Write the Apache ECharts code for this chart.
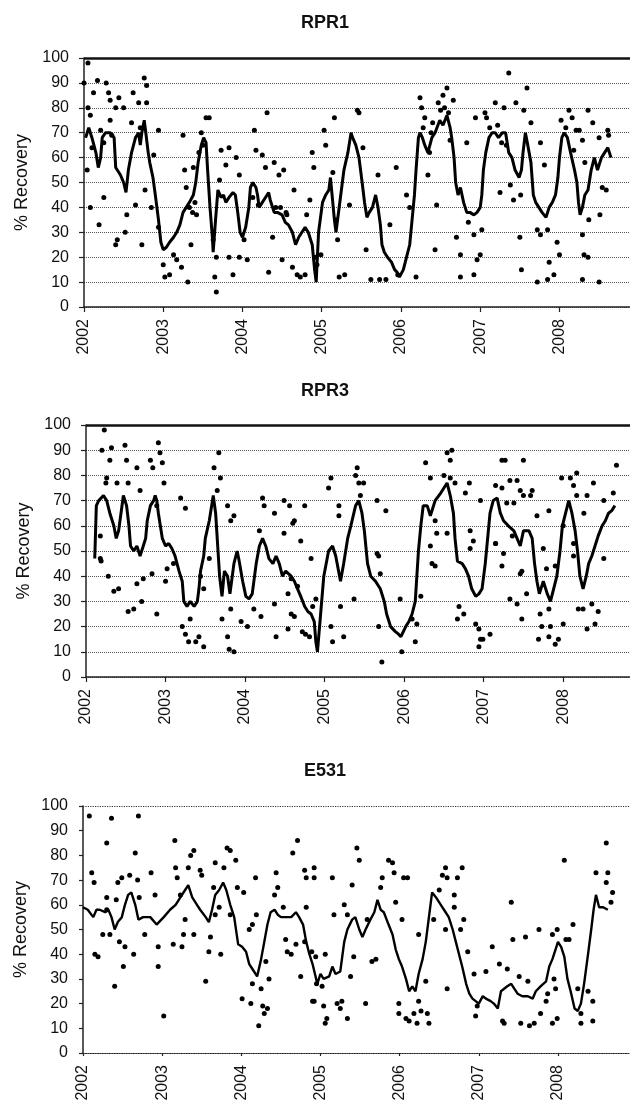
<!DOCTYPE html>
<html>
<head>
<meta charset="utf-8">
<script src="https://cdn.jsdelivr.net/npm/echarts@6/dist/echarts.min.js"></script>
<style>
html, body { margin: 0; padding: 0; background: #fff; }
#chart { width: 630px; height: 1106px; }
</style>
</head>
<body>
<div id="chart"></div>
<script>
const years = [2002, 2003, 2004, 2005, 2006, 2007, 2008];
const yTicks = [0, 10, 20, 30, 40, 50, 60, 70, 80, 90, 100];
const panelTitles = ["RPR1", "RPR3", "E531"];
const yName = "% Recovery";

// moving average lines, [decimal year, % recovery]
const rpr1Line = [[2002.02,68],[2002.06,72],[2002.10,68],[2002.15,62],[2002.18,56],[2002.21,60],[2002.23,68],[2002.27,70],[2002.33,70],[2002.38,68],[2002.40,56],[2002.46,53],[2002.50,50],[2002.53,46],[2002.56,55],[2002.60,62],[2002.65,68],[2002.69,70],[2002.71,65],[2002.73,70],[2002.76,75],[2002.78,70],[2002.81,62],[2002.83,58],[2002.87,52],[2002.90,45],[2002.94,35],[2002.97,26],[2003.00,23],[2003.04,24],[2003.08,26],[2003.13,28],[2003.17,30],[2003.21,33],[2003.25,38],[2003.29,40],[2003.33,42],[2003.38,45],[2003.41,50],[2003.44,58],[2003.48,65],[2003.51,68],[2003.54,66],[2003.56,55],[2003.59,40],[2003.62,28],[2003.63,22],[2003.66,35],[2003.69,47],[2003.73,44],[2003.76,45],[2003.79,42],[2003.83,44],[2003.88,46],[2003.91,45],[2003.94,38],[2003.97,30],[2004.00,28],[2004.04,32],[2004.08,40],[2004.10,48],[2004.13,50],[2004.17,48],[2004.19,45],[2004.21,40],[2004.25,42],[2004.29,44],[2004.33,46],[2004.35,43],[2004.40,38],[2004.44,38],[2004.50,37],[2004.54,34],[2004.58,33],[2004.63,30],[2004.67,25],[2004.71,28],[2004.75,30],[2004.79,32],[2004.83,30],[2004.88,25],[2004.91,15],[2004.93,10],[2004.96,30],[2005.01,42],[2005.05,45],[2005.09,47],[2005.11,52],[2005.16,35],[2005.18,30],[2005.24,45],[2005.28,55],[2005.33,62],[2005.37,70],[2005.39,68],[2005.43,65],[2005.47,60],[2005.51,50],[2005.54,42],[2005.57,36],[2005.60,38],[2005.64,40],[2005.68,45],[2005.71,40],[2005.74,33],[2005.76,25],[2005.79,22],[2005.83,20],[2005.88,18],[2005.92,15],[2005.95,14],[2005.98,12],[2006.03,15],[2006.07,20],[2006.11,25],[2006.14,35],[2006.17,45],[2006.19,55],[2006.22,68],[2006.24,70],[2006.27,68],[2006.30,65],[2006.34,62],[2006.39,68],[2006.43,70],[2006.49,75],[2006.53,73],[2006.58,77],[2006.62,72],[2006.64,68],[2006.67,60],[2006.69,50],[2006.72,45],[2006.75,48],[2006.79,42],[2006.83,38],[2006.87,38],[2006.92,37],[2006.96,38],[2007.00,40],[2007.02,45],[2007.04,55],[2007.07,62],[2007.11,68],[2007.15,70],[2007.19,70],[2007.23,68],[2007.28,70],[2007.32,70],[2007.36,62],[2007.40,60],[2007.44,55],[2007.49,52],[2007.52,55],[2007.54,62],[2007.57,70],[2007.60,65],[2007.64,58],[2007.67,45],[2007.70,42],[2007.74,40],[2007.78,38],[2007.83,36],[2007.87,40],[2007.91,42],[2007.95,45],[2007.98,52],[2008.00,60],[2008.03,68],[2008.06,70],[2008.10,68],[2008.14,62],[2008.19,55],[2008.22,50],[2008.24,42],[2008.26,37],[2008.29,40],[2008.32,45],[2008.36,47],[2008.40,55],[2008.44,60],[2008.48,55],[2008.53,60],[2008.57,62],[2008.61,64],[2008.65,60]];

const rpr3Line = [[2002.11,47],[2002.13,68],[2002.16,70],[2002.22,72],[2002.26,70],[2002.30,65],[2002.35,60],[2002.38,55],[2002.41,58],[2002.44,65],[2002.47,72],[2002.51,68],[2002.54,60],[2002.56,52],[2002.60,50],[2002.64,52],[2002.68,48],[2002.72,52],[2002.75,55],[2002.77,62],[2002.81,68],[2002.85,70],[2002.87,72],[2002.89,70],[2002.91,65],[2002.96,55],[2003.00,52],[2003.04,53],[2003.08,51],[2003.12,48],[2003.17,42],[2003.21,38],[2003.23,30],[2003.27,28],[2003.31,30],[2003.36,28],[2003.40,30],[2003.42,35],[2003.44,42],[2003.48,48],[2003.50,55],[2003.55,62],[2003.58,68],[2003.60,72],[2003.63,65],[2003.66,50],[2003.68,40],[2003.71,32],[2003.74,42],[2003.78,40],[2003.81,33],[2003.86,45],[2003.90,50],[2003.92,47],[2003.97,38],[2004.01,32],[2004.05,31],[2004.09,33],[2004.14,45],[2004.18,52],[2004.22,55],[2004.26,52],[2004.30,47],[2004.35,45],[2004.39,48],[2004.43,45],[2004.47,40],[2004.51,42],[2004.58,40],[2004.62,38],[2004.66,35],[2004.70,32],[2004.75,28],[2004.79,26],[2004.83,25],[2004.87,22],[2004.89,14],[2004.91,10],[2004.95,25],[2004.99,40],[2005.05,50],[2005.10,52],[2005.14,48],[2005.20,38],[2005.24,45],[2005.29,55],[2005.33,60],[2005.39,68],[2005.43,70],[2005.47,65],[2005.50,58],[2005.54,45],[2005.58,40],[2005.64,38],[2005.70,35],[2005.75,30],[2005.78,25],[2005.83,20],[2005.89,18],[2005.93,17],[2005.96,16],[2006.02,20],[2006.06,22],[2006.10,25],[2006.14,30],[2006.16,40],[2006.18,50],[2006.21,60],[2006.24,68],[2006.29,68],[2006.33,64],[2006.39,70],[2006.46,73],[2006.50,75],[2006.54,77],[2006.58,72],[2006.62,65],[2006.64,55],[2006.67,46],[2006.73,45],[2006.77,43],[2006.81,40],[2006.85,35],[2006.90,32],[2006.94,33],[2006.98,35],[2007.02,45],[2007.05,55],[2007.08,65],[2007.12,70],[2007.17,71],[2007.21,65],[2007.25,62],[2007.31,60],[2007.38,58],[2007.42,55],[2007.46,52],[2007.50,58],[2007.57,58],[2007.61,55],[2007.64,45],[2007.67,38],[2007.70,33],[2007.75,38],[2007.80,33],[2007.84,30],[2007.88,35],[2007.92,40],[2007.96,50],[2007.99,60],[2008.03,65],[2008.07,70],[2008.11,65],[2008.15,58],[2008.18,50],[2008.21,40],[2008.25,35],[2008.29,40],[2008.32,45],[2008.36,48],[2008.40,52],[2008.44,56],[2008.49,60],[2008.53,62],[2008.57,65],[2008.61,66],[2008.65,68]];

const e531Line = [[2002.00,59],[2002.06,58],[2002.13,55],[2002.17,58],[2002.21,58],[2002.28,57],[2002.32,58],[2002.36,55],[2002.40,50],[2002.44,53],[2002.49,55],[2002.53,60],[2002.57,64],[2002.61,65],[2002.66,60],[2002.70,54],[2002.76,55],[2002.85,55],[2002.93,52],[2003.02,55],[2003.10,58],[2003.17,60],[2003.23,63],[2003.29,66],[2003.33,68],[2003.38,63],[2003.44,60],[2003.48,58],[2003.55,55],[2003.59,53],[2003.63,58],[2003.67,64],[2003.72,66],[2003.77,69],[2003.81,66],[2003.86,60],[2003.91,55],[2003.96,44],[2004.01,43],[2004.06,41],[2004.10,36],[2004.14,34],[2004.20,31],[2004.25,38],[2004.29,45],[2004.33,52],[2004.37,57],[2004.42,58],[2004.46,56],[2004.50,55],[2004.56,55],[2004.63,55],[2004.69,57],[2004.73,55],[2004.78,52],[2004.82,45],[2004.86,40],[2004.90,36],[2004.93,32],[2004.96,28],[2005.00,32],[2005.04,30],[2005.11,31],[2005.15,35],[2005.19,32],[2005.25,33],[2005.30,45],[2005.34,50],[2005.40,54],[2005.44,55],[2005.49,50],[2005.53,47],[2005.57,50],[2005.63,54],[2005.68,57],[2005.72,62],[2005.76,58],[2005.80,57],[2005.86,52],[2005.91,48],[2005.95,42],[2005.99,38],[2006.03,35],[2006.08,30],[2006.12,25],[2006.16,27],[2006.20,25],[2006.24,32],[2006.29,38],[2006.33,45],[2006.37,55],[2006.41,65],[2006.46,63],[2006.52,60],[2006.56,58],[2006.62,55],[2006.67,50],[2006.71,45],[2006.75,40],[2006.79,35],[2006.84,28],[2006.88,24],[2006.92,22],[2006.96,21],[2007.00,20],[2007.05,23],[2007.09,22],[2007.15,21],[2007.19,20],[2007.24,18],[2007.28,25],[2007.32,26],[2007.36,27],[2007.41,28],[2007.45,26],[2007.49,24],[2007.55,23],[2007.62,23],[2007.68,22],[2007.72,25],[2007.78,27],[2007.85,29],[2007.89,35],[2007.93,38],[2007.97,42],[2008.00,45],[2008.04,43],[2008.08,39],[2008.12,30],[2008.16,25],[2008.21,18],[2008.25,17],[2008.29,20],[2008.33,28],[2008.38,40],[2008.42,50],[2008.45,58],[2008.48,64],[2008.52,59],[2008.57,59],[2008.63,58]];

// individual samples
const rpr1Pts = [[2002.05,98],[2002.05,80],[2002.00,90],[2002.17,91],[2002.12,86],[2002.28,90],[2002.31,86],[2002.33,83],[2002.40,80],[2002.50,80],[2002.44,84],[2002.62,86],[2002.69,82],[2002.76,92],[2002.79,89],[2002.79,82],[2002.08,77],[2002.33,75],[2002.21,71],[2002.60,74],[2002.71,72],[2002.04,55],[2002.08,40],[2002.19,33],[2002.25,44],[2002.40,25],[2002.42,27],[2002.54,37],[2002.52,30],[2002.65,41],[2002.73,25],[2002.77,47],[2002.94,71],[2002.88,61],[2002.85,40],[2002.94,32],[2003.00,17],[2003.02,12],[2003.08,13],[2003.13,21],[2003.17,19],[2003.23,16],[2003.31,10],[2003.25,69],[2003.27,55],[2003.29,48],[2003.33,40],[2003.35,25],[2003.38,56],[2003.42,37],[2003.48,70],[2003.50,65],[2003.54,76],[2003.58,76],[2003.63,27],[2003.65,12],[2003.67,6],[2003.67,20],[2003.71,51],[2003.73,63],[2003.83,64],[2003.79,57],[2003.92,60],[2003.96,53],[2003.88,13],[2003.83,20],[2003.96,20],[2004.06,19],[2004.02,27],[2004.13,44],[2004.15,71],[2004.17,63],[2004.25,61],[2004.29,56],[2004.31,78],[2004.33,14],[2004.38,28],[2004.40,58],[2004.46,53],[2004.52,55],[2004.48,40],[2004.50,19],[2004.56,37],[2004.63,16],[2004.65,47],[2004.69,13],[2004.73,12],[2004.79,13],[2004.85,43],[2004.88,62],[2004.90,56],[2004.92,20],[2004.81,37],[2004.94,17],[2004.99,21],[2005.03,71],[2005.05,65],[2005.14,54],[2005.16,76],[2005.18,35],[2005.20,27],[2005.22,12],[2005.29,13],[2005.35,41],[2005.45,79],[2005.47,78],[2005.52,64],[2005.56,23],[2005.62,11],[2005.71,53],[2005.73,11],[2005.81,11],[2005.86,33],[2005.94,56],[2005.96,13],[2006.07,45],[2006.11,40],[2006.19,12],[2006.24,84],[2006.26,80],[2006.30,76],[2006.34,53],[2006.36,62],[2006.43,23],[2006.45,41],[2006.47,82],[2006.53,85],[2006.58,88],[2006.66,83],[2006.62,67],[2006.70,28],[2006.75,21],[2006.75,12],[2006.83,66],[2006.85,34],[2006.92,29],[2006.94,76],[2006.92,13],[2006.96,19],[2007.00,21],[2007.02,31],[2007.06,78],[2007.08,76],[2007.19,82],[2007.30,80],[2007.25,46],[2007.38,49],[2007.42,43],[2007.45,82],[2007.36,94],[2007.51,45],[2007.50,28],[2007.52,15],[2007.59,88],[2007.55,79],[2007.64,74],[2007.76,66],[2007.81,57],[2007.72,31],[2007.76,29],[2007.85,31],[2007.72,10],[2007.85,11],[2007.87,18],[2007.97,26],[2008.00,21],[2007.93,13],[2008.02,75],[2008.12,79],[2008.16,76],[2008.21,71],[2008.25,71],[2008.29,67],[2008.32,58],[2008.36,79],[2008.29,29],[2008.31,21],[2008.36,20],[2008.29,11],[2008.37,35],[2008.42,74],[2008.50,68],[2008.54,48],[2008.61,71],[2008.62,69],[2008.59,47],[2008.51,37],[2008.50,10],[2006.28,72],[2006.40,74],[2006.50,79],[2006.55,80],[2006.60,78],[2006.38,70],[2007.12,72],[2007.22,73],[2007.27,66],[2007.33,65],[2003.45,62],[2003.40,42],[2003.37,38],[2004.20,41],[2004.42,40],[2004.55,38],[2002.10,64],[2002.25,66],[2002.35,69],[2008.08,72],[2008.18,63]];

const rpr3Pts = [[2002.23,98],[2002.20,90],[2002.32,91],[2002.30,86],[2002.26,79],[2002.25,77],[2002.39,77],[2002.49,92],[2002.51,86],[2002.64,83],[2002.53,77],[2002.68,74],[2002.81,86],[2002.84,83],[2002.91,93],[2002.93,89],[2002.96,85],[2002.98,77],[2002.89,68],[2003.19,71],[2003.25,67],[2003.61,83],[2003.67,89],[2003.69,79],[2003.65,74],[2003.78,68],[2003.82,62],[2003.86,64],[2004.22,71],[2004.24,68],[2004.37,65],[2004.49,70],[2004.56,68],[2004.60,61],[2004.75,68],[2002.18,56],[2002.19,46],[2002.28,40],[2002.18,47],[2002.35,34],[2002.41,35],[2002.53,26],[2002.60,27],[2002.70,30],[2002.64,37],[2002.72,39],[2002.83,41],[2002.89,25],[2003.00,38],[2003.02,43],[2003.10,45],[2003.21,20],[2003.25,17],[2003.29,14],[2003.38,14],[2003.42,16],[2003.48,12],[2003.31,23],[2003.48,35],[2003.55,47],[2003.44,40],[2003.71,23],[2003.78,16],[2003.80,11],[2003.86,10],[2003.82,27],[2003.95,22],[2004.03,20],[2004.11,27],[2004.20,24],[2004.18,58],[2004.37,29],[2004.39,16],[2004.54,19],[2004.58,25],[2004.62,24],[2004.72,18],[2004.76,17],[2004.81,16],[2004.85,28],[2004.89,31],[2004.58,39],[2004.66,36],[2004.54,33],[2004.83,47],[2004.70,54],[2004.49,57],[2004.62,62],[2005.08,20],[2005.10,14],[2005.24,16],[2005.20,28],[2005.37,31],[2005.66,49],[2005.70,41],[2005.68,20],[2005.72,6],[2005.95,31],[2006.10,23],[2006.16,21],[2006.14,14],[2005.97,10],[2006.21,32],[2006.35,45],[2006.39,44],[2006.54,57],[2006.69,28],[2006.75,25],[2006.67,23],[2006.83,51],[2006.90,21],[2006.94,19],[2006.96,15],[2006.99,15],[2006.94,12],[2007.08,17],[2007.23,44],[2007.15,53],[2007.33,31],[2007.42,29],[2007.48,23],[2007.46,41],[2007.54,33],[2007.71,25],[2007.73,20],[2007.82,27],[2007.84,20],[2007.82,16],[2007.69,15],[2007.90,13],[2007.94,15],[2008.00,21],[2007.90,44],[2007.79,43],[2008.19,27],[2008.25,27],[2008.36,29],[2008.44,26],[2008.30,19],[2008.40,21],[2008.51,47],[2005.08,79],[2005.05,75],[2005.18,68],[2005.18,64],[2005.41,83],[2005.39,80],[2005.43,77],[2005.49,77],[2005.45,72],[2005.66,70],[2005.77,66],[2005.68,48],[2006.27,85],[2006.54,89],[2006.60,90],[2006.58,86],[2006.33,79],[2006.50,80],[2006.58,79],[2006.64,77],[2006.82,77],[2006.77,73],[2006.41,57],[2006.39,62],[2006.33,52],[2006.83,58],[2006.87,54],[2006.96,70],[2007.15,76],[2007.23,86],[2007.27,86],[2007.50,86],[2007.33,78],[2007.42,78],[2007.23,75],[2007.29,69],[2007.38,69],[2007.46,74],[2007.61,74],[2007.67,64],[2007.82,66],[2007.50,72],[2007.59,72],[2007.15,53],[2007.25,49],[2007.36,56],[2007.48,42],[2007.75,51],[2007.98,79],[2008.09,79],[2008.17,81],[2008.13,76],[2008.38,77],[2008.17,72],[2008.30,72],[2008.67,84],[2008.63,73],[2008.51,70],[2008.26,65],[2008.00,60],[2008.13,53],[2008.13,48]];

const e531Pts = [[2002.08,96],[2002.11,73],[2002.14,69],[2002.15,40],[2002.19,39],[2002.30,58],[2002.30,63],[2002.25,48],[2002.34,48],[2002.36,95],[2002.30,85],[2002.40,27],[2002.42,62],[2002.44,69],[2002.49,71],[2002.46,45],[2002.53,43],[2002.51,35],[2002.59,72],[2002.64,40],[2002.66,81],[2002.69,70],[2002.70,96],[2002.71,63],[2002.78,48],[2002.86,73],[2002.91,64],[2002.95,43],[2002.95,35],[2003.02,15],[2003.14,44],[2003.16,86],[2003.17,75],[2003.19,71],[2003.23,64],[2003.25,43],[2003.29,54],[2003.27,48],[2003.33,75],[2003.36,80],[2003.40,82],[2003.40,48],[2003.48,74],[2003.50,72],[2003.55,29],[2003.59,41],[2003.61,47],[2003.67,77],[2003.65,67],[2003.67,56],[2003.72,59],[2003.74,40],[2003.78,75],[2003.82,83],[2003.86,82],[2003.93,78],[2003.86,56],[2003.95,67],[2004.03,65],[2004.01,22],[2004.10,50],[2004.12,20],[2004.14,52],[2004.14,28],[2004.18,71],[2004.19,56],[2004.22,11],[2004.25,26],[2004.27,19],[2004.29,16],[2004.33,18],[2004.31,37],[2004.35,30],[2004.42,64],[2004.44,73],[2004.46,67],[2004.53,59],[2004.56,46],[2004.58,41],[2004.63,40],[2004.65,81],[2004.71,86],[2004.69,44],[2004.75,31],[2004.80,74],[2004.82,71],[2004.82,59],[2004.80,45],[2004.90,21],[2004.92,75],[2004.95,28],[2004.92,71],[2004.89,41],[2004.94,39],[2005.06,40],[2005.02,27],[2004.92,21],[2005.04,19],[2005.08,14],[2005.06,12],[2005.15,71],[2005.17,56],[2005.21,20],[2005.27,21],[2005.25,18],[2005.34,14],[2005.30,60],[2005.34,56],[2005.42,39],[2005.38,31],[2005.40,68],[2005.46,83],[2005.49,78],[2005.57,20],[2005.59,54],[2005.65,37],[2005.70,38],[2005.76,67],[2005.78,71],[2005.86,78],[2005.91,77],[2005.93,73],[2005.95,61],[2005.99,16],[2005.99,20],[2006.08,14],[2006.12,13],[2006.05,71],[2006.10,71],[2006.03,54],[2006.18,16],[2006.22,12],[2006.24,21],[2006.27,17],[2006.33,29],[2006.35,16],[2006.37,12],[2006.24,48],[2006.43,54],[2006.50,66],[2006.54,72],[2006.58,75],[2006.60,71],[2006.73,71],[2006.79,75],[2006.69,64],[2006.69,59],[2006.58,50],[2006.60,26],[2006.77,50],[2006.81,54],[2006.86,41],[2006.94,32],[2006.96,15],[2006.98,19],[2007.09,33],[2007.17,43],[2007.26,36],[2007.32,12],[2007.36,34],[2007.30,13],[2007.41,61],[2007.43,46],[2007.51,31],[2007.59,47],[2007.62,29],[2007.53,12],[2007.64,11],[2007.70,12],[2007.76,50],[2007.78,16],[2007.85,21],[2007.87,24],[2007.93,48],[2007.99,50],[2007.93,12],[2007.99,14],[2007.95,30],[2007.97,26],[2008.08,78],[2008.10,46],[2008.14,46],[2008.19,52],[2008.25,26],[2008.29,16],[2008.29,12],[2008.44,13],[2008.44,21],[2008.38,25],[2008.48,73],[2008.61,85],[2008.63,73],[2008.61,69],[2008.69,65],[2008.67,61]];

const font = "'Liberation Sans', Arial, sans-serif";
const ink = "#000";

const panels = [
  { line: rpr1Line, pts: rpr1Pts, left: 84, top: 58, width: 546, height: 249, xMax: 2008.89, titleTop: 14, gridLines: true, lw: 3 },
  { line: rpr3Line, pts: rpr3Pts, left: 86, top: 425, width: 544, height: 252, xMax: 2008.84, titleTop: 382, gridLines: true, lw: 3 },
  { line: e531Line, pts: e531Pts, left: 83, top: 806, width: 547, height: 247, xMax: 2008.91, titleTop: 762, gridLines: false, lw: 2.4 }
];

const chart = echarts.init(document.getElementById("chart"), null, { renderer: "canvas" });

const series = [];
panels.forEach((p, i) => {
  series.push({
    type: "scatter",
    xAxisIndex: i, yAxisIndex: i,
    data: p.pts,
    symbol: "circle",
    symbolSize: 5,
    itemStyle: { color: ink, opacity: 1 },
    silent: true
  });
  series.push({
    type: "line",
    xAxisIndex: i, yAxisIndex: i,
    data: p.line,
    showSymbol: false,
    symbol: "none",
    lineStyle: { color: ink, width: p.lw },
    silent: true,
    markLine: {
      silent: true,
      symbol: ["none", "none"],
      label: { show: false },
      lineStyle: p.gridLines
        ? { type: "solid", color: "#111", width: 2.5 }
        : { type: "dotted", color: "#333", width: 1.2 },
      data: [{ yAxis: 100 }]
    }
  });
});

chart.setOption({
  animation: false,
  backgroundColor: "#fff",
  title: panels.map((p, i) => ({
    text: panelTitles[i],
    left: 325,
    top: p.titleTop,
    padding: 0,
    textAlign: "center",
    textStyle: { fontFamily: font, fontSize: 18, fontWeight: "bold", color: "#111" }
  })),
  grid: panels.map(p => ({ left: p.left, top: p.top, width: p.width, height: p.height })),
  xAxis: panels.map((p, i) => ({
    type: "value",
    gridIndex: i,
    min: 2002,
    max: p.xMax,
    interval: 1,
    axisLine: {
      show: true, onZero: false,
      lineStyle: { color: "#222", width: p.gridLines ? 1.5 : 1.2, type: p.gridLines ? "solid" : "dotted" }
    },
    axisTick: { show: true, length: p.gridLines ? 5 : 3, customValues: years, lineStyle: { color: "#222", width: 1.2 } },
    axisLabel: {
      rotate: 90, margin: 12, customValues: years,
      formatter: v => (Number.isInteger(v) ? String(v) : ""),
      fontFamily: font, fontSize: 16, color: "#111"
    },
    splitLine: { show: false }
  })),
  yAxis: panels.map((p, i) => ({
    type: "value",
    gridIndex: i,
    min: 0,
    max: 100,
    interval: 10,
    name: yName,
    nameLocation: "middle",
    nameGap: 50,
    nameTextStyle: { fontFamily: font, fontSize: 18, color: "#111" },
    axisLine: { show: true, lineStyle: { color: "#222", width: 1.5 } },
    axisTick: { show: true, length: p.gridLines ? 5 : 4, customValues: yTicks, lineStyle: { color: "#222", width: 1.2 } },
    axisLabel: { margin: 15, fontFamily: font, fontSize: 16, color: "#111" },
    splitLine: { show: p.gridLines, lineStyle: { type: "dotted", color: "#555", width: 1 } }
  })),
  series: series
});
</script>
</body>
</html>
